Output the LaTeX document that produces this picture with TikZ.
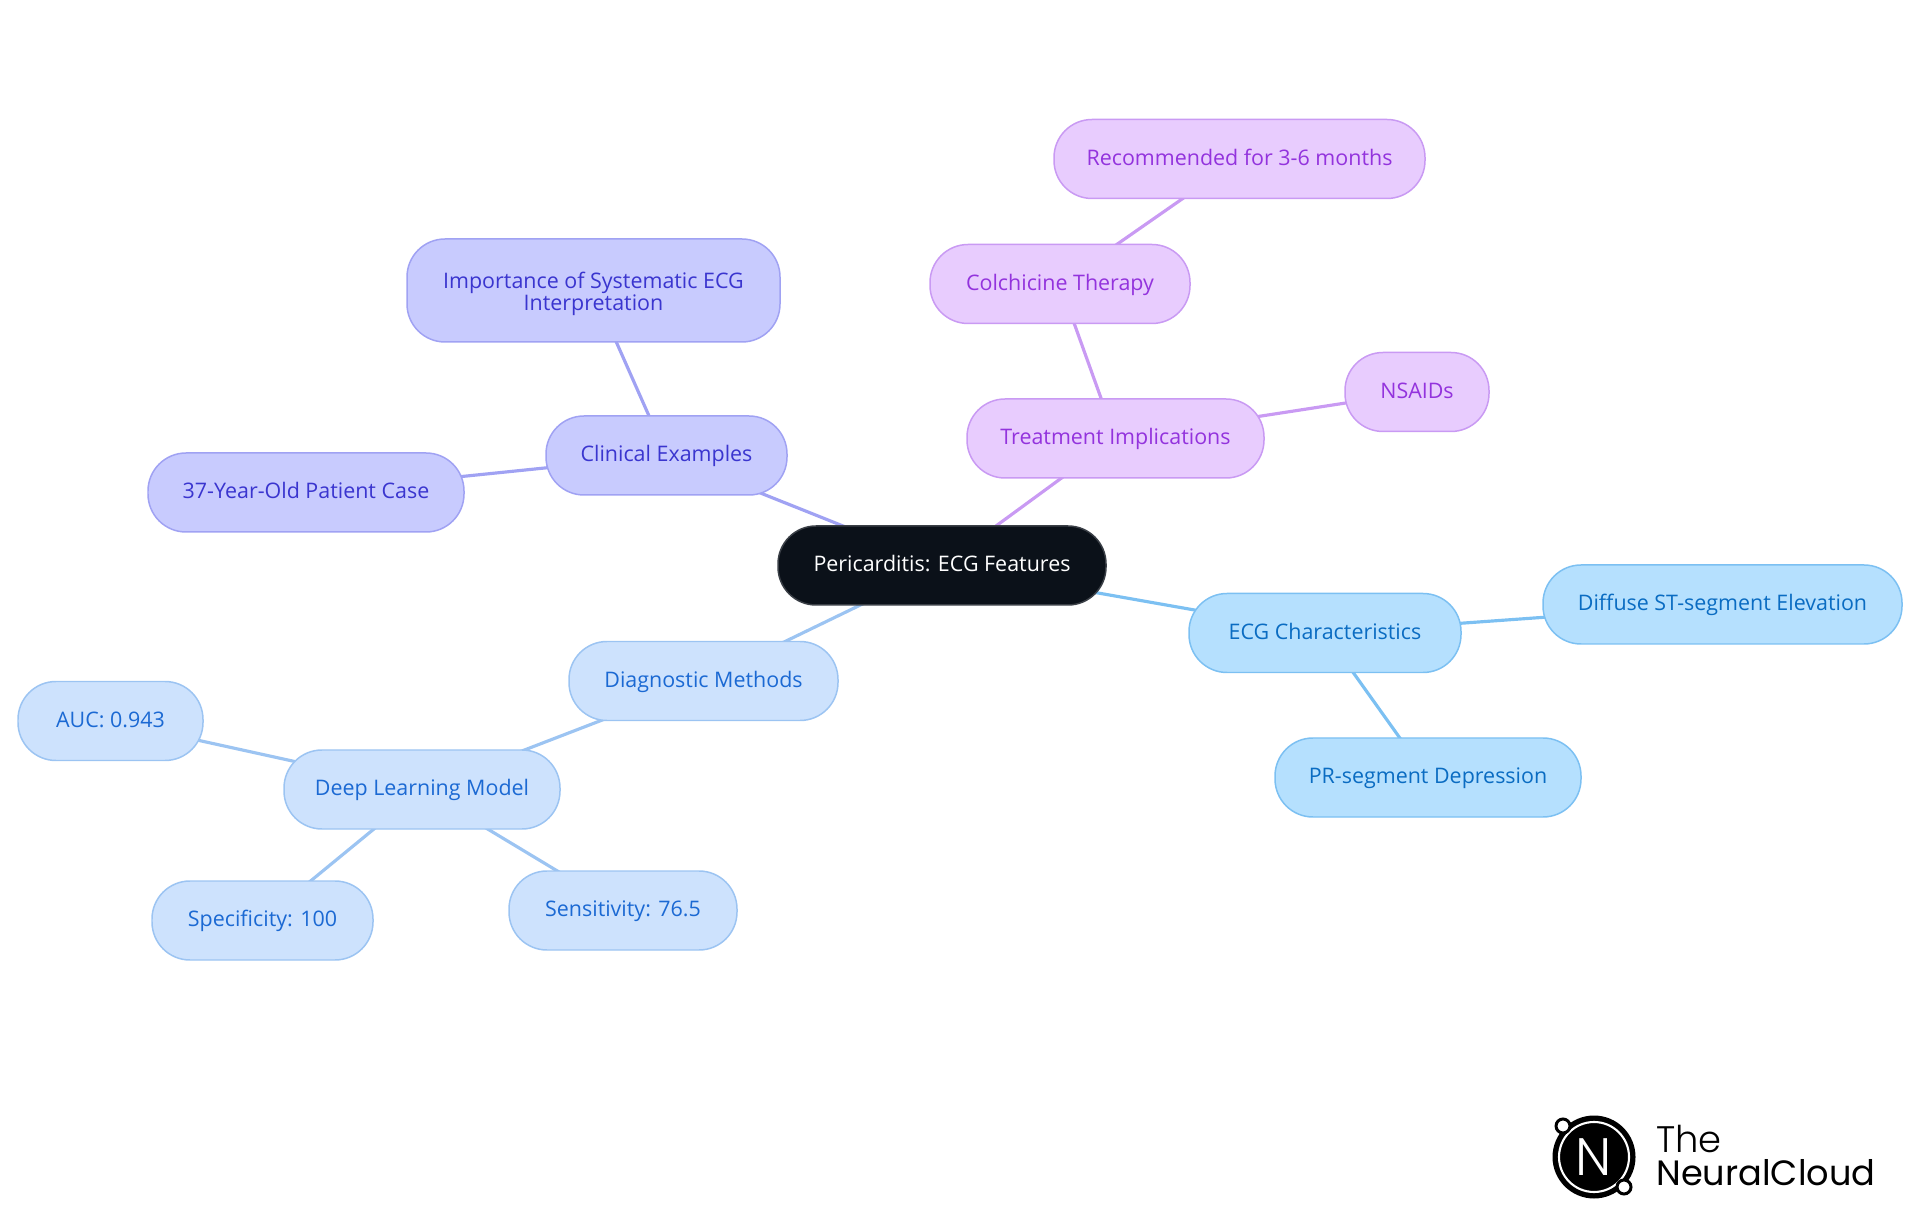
\documentclass[tikz,border=0pt]{standalone}
\usepackage{fontspec}
\setmainfont{Open Sans}
\newfontfamily\logofont{Poppins}
\newfontfamily\logolight{Poppins Light}
\usepackage{xcolor}
\usetikzlibrary{backgrounds}

\definecolor{rootFill}{HTML}{0B1119}
\definecolor{rootLine}{HTML}{3A3F46}
\definecolor{purpleFill}{HTML}{E8CCFE}
\definecolor{purpleLine}{HTML}{C99AF3}
\definecolor{purpleText}{HTML}{9333DD}
\definecolor{indigoFill}{HTML}{C8CBFE}
\definecolor{indigoLine}{HTML}{A0A2F3}
\definecolor{indigoText}{HTML}{3A35CF}
\definecolor{blueFill}{HTML}{CDE2FD}
\definecolor{blueLine}{HTML}{9CC4F2}
\definecolor{blueText}{HTML}{1B69D3}
\definecolor{skyFill}{HTML}{B5E0FE}
\definecolor{skyLine}{HTML}{7CC0F2}
\definecolor{skyText}{HTML}{0A6CC2}

\tikzset{
  mapnode/.style={rounded corners=0.76cm, line width=0.85pt, align=center,
    font=\fontsize{12.2pt}{13pt}\selectfont, minimum height=1.58cm, inner sep=0pt,
    text height=0.33cm, text depth=0.08cm},
  rootnode/.style={mapnode, fill=rootFill, draw=rootLine, text=white},
  purplenode/.style={mapnode, fill=purpleFill, draw=purpleLine, text=purpleText},
  indigonode/.style={mapnode, fill=indigoFill, draw=indigoLine, text=indigoText},
  bluenode/.style={mapnode, fill=blueFill, draw=blueLine, text=blueText},
  skynode/.style={mapnode, fill=skyFill, draw=skyLine, text=skyText},
  maplink/.style={line width=1.8pt}
}

\begin{document}
\begin{tikzpicture}
\useasboundingbox (0,0) rectangle (38.40,24.30);

%% ── Root ─────────────────────────────────────────────────────────────────────
\node[rootnode, minimum width=6.56cm] (root) at (18.84, 12.99) {Pericarditis: ECG Features};

%% ── Treatment branch ─────────────────────────────────────────────────────────
\node[purplenode, minimum width=5.94cm] (treatment) at (22.31, 15.53) {Treatment Implications};
\node[purplenode, minimum width=5.20cm] (colchicine) at (21.20, 18.62) {Colchicine Therapy};
\node[purplenode, minimum width=7.42cm] (months) at (24.79, 21.12) {Recommended for 3-6 months};
\node[purplenode, minimum width=2.88cm] (nsaids) at (28.34, 16.46) {NSAIDs};

%% ── Clinical branch ──────────────────────────────────────────────────────────
\node[indigonode, minimum width=7.46cm, minimum height=2.06cm, text height=0.82cm, text depth=0cm] (importance) at (11.87, 18.49)
  {Importance of Systematic ECG\\Interpretation};
\node[indigonode, minimum width=4.82cm] (clinical) at (13.33, 15.19) {Clinical Examples};
\node[indigonode, minimum width=6.32cm] (patient) at (6.12, 14.45) {37-Year-Old Patient Case};

%% ── Diagnostic branch ────────────────────────────────────────────────────────
\node[bluenode, minimum width=5.38cm] (diagnostic) at (14.07, 10.68) {Diagnostic Methods};
\node[bluenode, minimum width=5.52cm] (deep) at (8.44, 8.51) {Deep Learning Model};
\node[bluenode, minimum width=3.70cm] (auc) at (2.21, 9.88) {AUC: 0.943};
\node[bluenode, minimum width=4.42cm] (specificity) at (5.25, 5.89) {Specificity: 100};
\node[bluenode, minimum width=4.56cm] (sensitivity) at (12.46, 6.09) {Sensitivity: 76.5};

%% ── ECG branch ───────────────────────────────────────────────────────────────
\node[skynode, minimum width=5.44cm] (ecg) at (26.50, 11.64) {ECG Characteristics};
\node[skynode, minimum width=7.18cm] (diffuse) at (34.45, 12.21) {Diffuse ST-segment Elevation};
\node[skynode, minimum width=6.12cm] (depression) at (28.56, 8.75) {PR-segment Depression};

%% ── Connectors ───────────────────────────────────────────────────────────────
\begin{pgfonlayer}{background}
\foreach \from/\to in {root/treatment, treatment/colchicine, colchicine/months, treatment/nsaids}{
  \draw[maplink, purpleLine] (\from.center) -- (\to.center);
}
\foreach \from/\to in {root/clinical, clinical/importance, clinical/patient}{
  \draw[maplink, indigoLine] (\from.center) -- (\to.center);
}
\foreach \from/\to in {root/diagnostic, diagnostic/deep, deep/auc, deep/specificity, deep/sensitivity}{
  \draw[maplink, blueLine] (\from.center) -- (\to.center);
}
\foreach \from/\to in {root/ecg, ecg/diffuse, ecg/depression}{
  \draw[maplink, skyLine] (\from.center) -- (\to.center);
}
\end{pgfonlayer}

%% ── Logo ─────────────────────────────────────────────────────────────────────
\fill[black] (31.88, 1.16) circle (0.83);
\draw[white, line width=1.2pt] (31.88, 1.16) circle (0.70);
\node[white, inner sep=0pt, font=\logolight\fontsize{30pt}{30pt}\selectfont] (logoN) at (31.88, 1.16) {N};
\draw[black, fill=white, line width=1.7pt] (31.26, 1.78) circle (0.14);
\draw[black, fill=white, line width=1.7pt] (32.48, 0.56) circle (0.14);
\node[anchor=base west, inner sep=0pt, font=\logolight\fontsize{21pt}{21pt}\selectfont] (logoThe) at (33.12, 1.26) {The};
\node[anchor=base west, inner sep=0pt, font=\logofont\fontsize{20pt}{20pt}\selectfont] (logoName) at (33.12, 0.60) {NeuralCloud};

\end{tikzpicture}
\end{document}
